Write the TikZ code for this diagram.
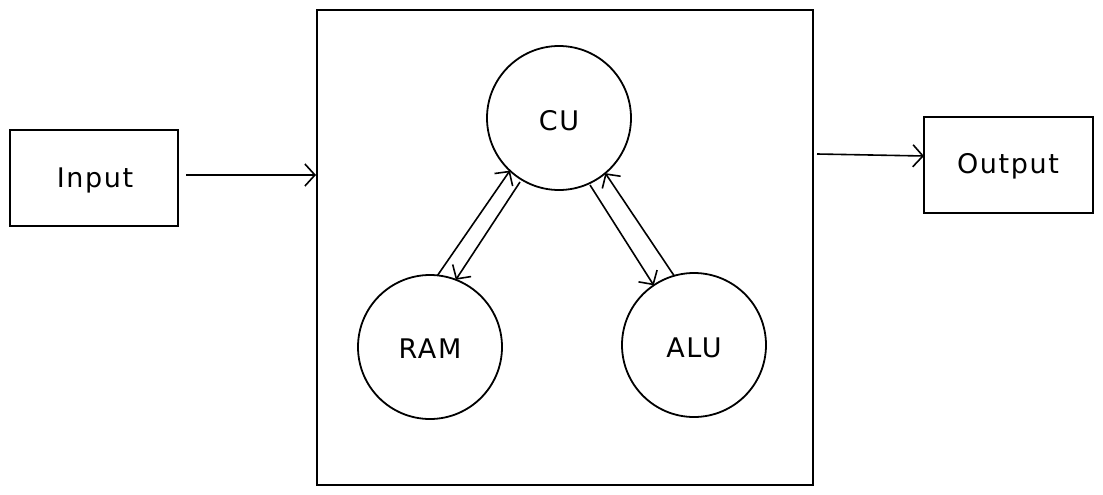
\documentclass[tikz,border=0pt]{standalone}
\usepackage{fontspec}
\setmainfont{DejaVu Sans}[LetterSpace=6]
\usetikzlibrary{arrows.meta}
\begin{document}
\begin{tikzpicture}[x=1pt,y=-1pt,
  line width=1.8pt,
  lbl/.style={font=\fontsize{27}{30}\selectfont},
  box/.style={draw,inner sep=0pt,outer sep=0pt,lbl},
  circ/.style={draw,circle,minimum size=144pt,inner sep=0pt,outer sep=0pt,lbl},
  arr/.style={-{Straight Barb[length=10pt,width=22pt,line width=1.6pt]},line width=1.6pt}]
\useasboundingbox (0,0) rectangle (1103,495);
\node[box,minimum width=168pt,minimum height=96pt] (in) at (94,178) {};
\node at (95,180) [lbl] {Input};
\node[box,minimum width=496pt,minimum height=475pt] (cpu) at (565,247.5) {};
\node[box,minimum width=169pt,minimum height=96pt] (out) at (1008.5,165) {};
\node at (1008,166) [lbl] {Output};
\node[circ] (cu) at (559,118) {};
\node at (559,121) [lbl] {CU};
\node[circ] (ram) at (430,347) {};
\node at (430,349) [lbl] {RAM};
\node[circ] (alu) at (694,345) {};
\node at (694,348) [lbl] {ALU};
\coordinate (a1) at (186,175);
\coordinate (a2) at (316,175);
\coordinate (b1) at (817,154);
\coordinate (b2) at (924,156);
\draw[arr] (a1) -- (a2);
\draw[arr] (b1) -- (b2);
\draw[arr] (ram.84) -- (cu.227);
\draw[arr] ([shift={(-39pt,-64pt)}]cu.center) -- (ram.69);
\draw[arr] ([shift={(31pt,-67pt)}]cu.center) -- (alu.124);
\draw[arr] (alu.106) -- (cu.310);
\end{tikzpicture}
\end{document}
